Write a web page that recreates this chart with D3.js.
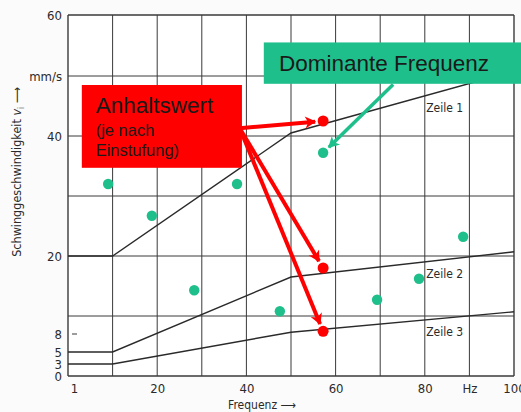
<!DOCTYPE html>
<html>
<head>
<meta charset="utf-8">
<script src="https://cdn.jsdelivr.net/npm/d3@7"></script>
<style>
  body { margin: 0; background: #fbfbfb; }
  .din { font-family: "DejaVu Sans Condensed", "DejaVu Sans", sans-serif; font-stretch: condensed; fill: #2a2a2a; }
  .note { font-family: "Liberation Sans", Arial, sans-serif; fill: #1a1a1a; }
</style>
</head>
<body>
<div id="wrapper"></div>
<script>
// tick values and labels
const xTickValues = [0, 20, 40, 60, 80, 90, 100]
const xTickLabels = ['1', '20', '40', '60', '80', 'Hz', '100']
const yTickValues = [60, 50, 40, 20, 8, 5, 3, 0]
const yTickLabels = ['60', 'mm/s', '40', '20', '8', '5', '3', '0']
const xGridValues = [0, 10, 20, 30, 40, 50, 60, 70, 80, 90, 100]
const yGridValues = [0, 10, 20, 30, 40, 50, 60]

// limit lines (Frequenz, v)
const zeile1 = [[0, 20], [10, 20], [50, 40.5], [100, 50.8]]
const zeile2 = [[0, 5], [10, 5], [50, 16.5], [100, 20.7]]
const zeile3 = [[0, 3], [10, 3], [50, 8.2], [100, 10.7]]
const zeileNames = ['Zeile 1', 'Zeile 2', 'Zeile 3']
const zeileLabelV = [44.0, 16.3, 7.6]

// dominant frequencies (green) and guide values (red)
const dominantFreq = [9.0, 18.8, 28.3, 37.9, 47.5, 57.2, 69.3, 78.7, 88.6]
const dominantV = [32.0, 26.7, 14.3, 32.0, 10.8, 37.2, 12.7, 16.2, 23.2]
const guideFreq = [57.2, 57.2, 57.2]
const guideV = [42.5, 18.0, 8.3]

const red = '#ff0000'
const green = '#1fbf8c'

const dimensions = {
  width: 521,
  height: 412,
  margin: { top: 15, right: 7, bottom: 36, left: 68 }
}
dimensions.boundedWidth = dimensions.width - dimensions.margin.left - dimensions.margin.right
dimensions.boundedHeight = dimensions.height - dimensions.margin.top - dimensions.margin.bottom

const svg = d3.select('#wrapper')
  .append('svg')
  .attr('width', dimensions.width)
  .attr('height', dimensions.height)

const bounds = svg.append('g')
  .attr('transform', `translate(${dimensions.margin.left},${dimensions.margin.top})`)

// SCALES (the printed v axis is not uniform)
const xScale = d3.scaleLinear()
  .domain([0, 100])
  .range([0, dimensions.boundedWidth])

const yScale = d3.scaleLinear()
  .domain([0, 3, 5, 8, 10, 20, 30, 40, 50, 60])
  .range([361, 349, 337, 319, 301, 241, 181, 121, 61, 0])

// plot background
bounds.append('rect')
  .attr('width', dimensions.boundedWidth)
  .attr('height', dimensions.boundedHeight)
  .attr('fill', '#ffffff')

// grid
bounds.append('g')
  .selectAll('line')
  .data(xGridValues)
  .join('line')
  .attr('x1', d => xScale(d)).attr('x2', d => xScale(d))
  .attr('y1', 0).attr('y2', dimensions.boundedHeight)
  .attr('stroke', '#3a3a3a')
  .attr('stroke-width', d => (d === 0 || d === 100) ? 1.4 : 1)

bounds.append('g')
  .selectAll('line')
  .data(yGridValues)
  .join('line')
  .attr('x1', 0).attr('x2', dimensions.boundedWidth)
  .attr('y1', d => yScale(d)).attr('y2', d => yScale(d))
  .attr('stroke', '#3a3a3a')
  .attr('stroke-width', d => (d === 0 || d === 60) ? 1.4 : 1)

// small inner tick at 8
bounds.append('line')
  .attr('x1', 4).attr('x2', 9)
  .attr('y1', yScale(8)).attr('y2', yScale(8))
  .attr('stroke', '#3a3a3a')

// axis labels
const xAxisGenerator = d3.axisBottom(xScale)
  .tickValues(xTickValues)
  .tickFormat((d, i) => xTickLabels[i])
  .tickSize(0)
  .tickPadding(8)

const xAxis = bounds.append('g')
  .attr('transform', `translate(0,${dimensions.boundedHeight})`)
  .call(xAxisGenerator)
xAxis.select('.domain').remove()
xAxis.selectAll('text')
  .attr('class', 'din')
  .style('font-size', '13px')
  .attr('dx', d => d === 0 ? 6 : 0)

const yAxisGenerator = d3.axisLeft(yScale)
  .tickValues(yTickValues)
  .tickFormat((d, i) => yTickLabels[i])
  .tickSize(0)
  .tickPadding(6)

const yAxis = bounds.append('g').call(yAxisGenerator)
yAxis.select('.domain').remove()
yAxis.selectAll('text')
  .attr('class', 'din')
  .style('font-size', '13px')

xAxis.append('text')
  .attr('class', 'din')
  .attr('x', xScale(43.5))
  .attr('y', 33)
  .attr('text-anchor', 'middle')
  .style('font-size', '12px')
  .text('Frequenz \u27F6')

const yLabel = svg.append('text')
  .attr('class', 'din')
  .attr('transform', 'translate(21,172) rotate(-90)')
  .attr('text-anchor', 'middle')
  .style('font-size', '12.5px')
yLabel.append('tspan').text('Schwinggeschwindigkeit ')
yLabel.append('tspan').style('font-style', 'italic').text('v')
yLabel.append('tspan').attr('dy', 3).style('font-size', '8px').text('i')
yLabel.append('tspan').attr('dy', -3).text(' \u27F6')

// limit lines
const lineGenerator = d3.line()
  .x(d => xScale(d[0]))
  .y(d => yScale(d[1]))

bounds.selectAll('.zeile')
  .data([zeile1, zeile2, zeile3])
  .join('path')
  .attr('class', 'zeile')
  .attr('d', lineGenerator)
  .attr('fill', 'none')
  .attr('stroke', '#2a2a2a')
  .attr('stroke-width', 1.4)

bounds.selectAll('.zeileLabel')
  .data(zeileNames)
  .join('text')
  .attr('class', 'din zeileLabel')
  .attr('x', xScale(80.3))
  .attr('y', (d, i) => yScale(zeileLabelV[i]))
  .style('font-size', '12px')
  .text(d => d)

// dots
bounds.selectAll('.dominant')
  .data(dominantFreq)
  .join('circle')
  .attr('class', 'dominant')
  .attr('cx', d => xScale(d))
  .attr('cy', (d, i) => yScale(dominantV[i]))
  .attr('r', 5.2)
  .attr('fill', green)

bounds.selectAll('.guide')
  .data(guideFreq)
  .join('circle')
  .attr('class', 'guide')
  .attr('cx', d => xScale(d))
  .attr('cy', (d, i) => yScale(guideV[i]))
  .attr('r', 5.5)
  .attr('fill', red)

// arrow heads
const defs = svg.append('defs')
;[['headRed', red], ['headGreen', green]].forEach(([id, c]) => {
  defs.append('marker')
    .attr('id', id)
    .attr('viewBox', '-2 -7 16 14')
    .attr('markerUnits', 'userSpaceOnUse')
    .attr('markerWidth', 16).attr('markerHeight', 14)
    .attr('refX', 10).attr('refY', 0)
    .attr('orient', 'auto')
    .append('path')
    .attr('d', 'M0,-6 L11,0 L0,6 L3,0 Z')
    .attr('fill', c)
})

function arrow(from, target, color, marker, width) {
  const x0 = xScale(from[0]), y0 = yScale(from[1])
  const x1 = xScale(target[0]), y1 = yScale(target[1])
  const len = Math.hypot(x1 - x0, y1 - y0)
  const k = (len - 8) / len
  bounds.append('line')
    .attr('x1', x0).attr('y1', y0)
    .attr('x2', x0 + (x1 - x0) * k).attr('y2', y0 + (y1 - y0) * k)
    .attr('stroke', color)
    .attr('stroke-width', width)
    .attr('marker-end', `url(#${marker})`)
}

// red note
bounds.append('rect')
  .attr('x', xScale(3.1))
  .attr('y', yScale(48.5))
  .attr('width', xScale(39) - xScale(3.1))
  .attr('height', yScale(34.7) - yScale(48.5))
  .attr('fill', red)

guideFreq.forEach((f, i) => arrow([38.5, 41.3], [f, guideV[i]], red, 'headRed', 4))

const redNote = bounds.append('text')
  .attr('class', 'note')
  .attr('x', xScale(6.2))
redNote.append('tspan').attr('y', 98).style('font-size', '22.5px').text('Anhaltswert')
redNote.append('tspan').attr('x', xScale(6.2)).attr('y', 121).style('font-size', '16.5px').text('(je nach')
redNote.append('tspan').attr('x', xScale(6.2)).attr('y', 141).style('font-size', '16.5px').text('Einstufung)')

// green note
bounds.append('rect')
  .attr('x', xScale(43.9))
  .attr('y', yScale(55.5))
  .attr('width', xScale(103) - xScale(43.9))
  .attr('height', yScale(48.7) - yScale(55.5))
  .attr('fill', green)

arrow([72.9, 48.6], [dominantFreq[5], dominantV[5]], green, 'headGreen', 3.5)

bounds.append('text')
  .attr('class', 'note')
  .attr('x', xScale(47.3))
  .attr('y', 56)
  .style('font-size', '22.5px')
  .text('Dominante Frequenz')
</script>
</body>
</html>
